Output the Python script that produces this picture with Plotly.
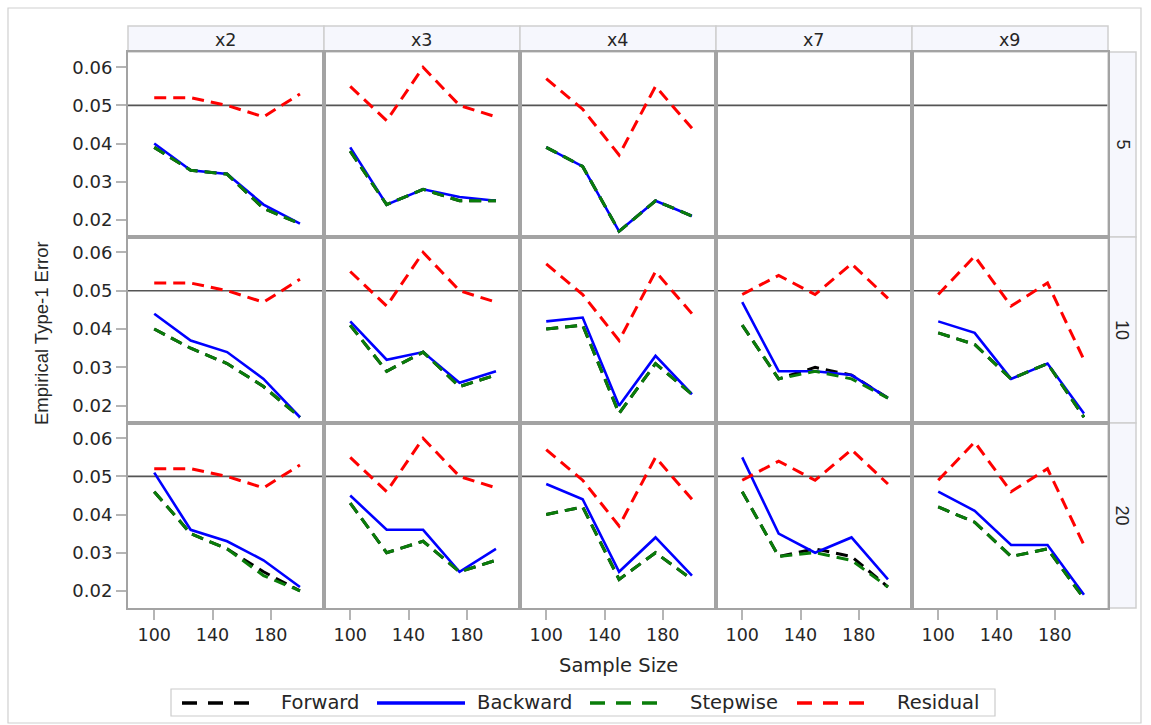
import plotly.graph_objects as go

W, H = 1151, 725

sizes = [100, 125, 150, 175, 200]
variables = ["x2", "x3", "x4", "x7", "x9"]
groups = ["5", "10", "20"]

residual = {
    "x2": [0.052, 0.052, 0.050, 0.047, 0.053],
    "x3": [0.055, 0.046, 0.060, 0.050, 0.047],
    "x4": [0.057, 0.049, 0.037, 0.055, 0.044],
    "x7": [0.049, 0.054, 0.049, 0.057, 0.048],
    "x9": [0.049, 0.059, 0.046, 0.052, 0.032],
}

backward_5 = {
    "x2": [0.040, 0.033, 0.032, 0.024, 0.019],
    "x3": [0.039, 0.024, 0.028, 0.026, 0.025],
    "x4": [0.039, 0.034, 0.017, 0.025, 0.021],
}
backward_10 = {
    "x2": [0.044, 0.037, 0.034, 0.027, 0.017],
    "x3": [0.042, 0.032, 0.034, 0.026, 0.029],
    "x4": [0.042, 0.043, 0.020, 0.033, 0.023],
    "x7": [0.047, 0.029, 0.029, 0.028, 0.022],
    "x9": [0.042, 0.039, 0.027, 0.031, 0.018],
}
backward_20 = {
    "x2": [0.051, 0.036, 0.033, 0.028, 0.021],
    "x3": [0.045, 0.036, 0.036, 0.025, 0.031],
    "x4": [0.048, 0.044, 0.025, 0.034, 0.024],
    "x7": [0.055, 0.035, 0.030, 0.034, 0.023],
    "x9": [0.046, 0.041, 0.032, 0.032, 0.019],
}

stepwise_5 = {
    "x2": [0.039, 0.033, 0.032, 0.023, 0.019],
    "x3": [0.038, 0.024, 0.028, 0.025, 0.025],
    "x4": [0.039, 0.034, 0.017, 0.025, 0.021],
}
stepwise_10 = {
    "x2": [0.040, 0.035, 0.031, 0.025, 0.017],
    "x3": [0.041, 0.029, 0.034, 0.025, 0.028],
    "x4": [0.040, 0.041, 0.018, 0.031, 0.023],
    "x7": [0.041, 0.027, 0.029, 0.027, 0.022],
    "x9": [0.039, 0.036, 0.027, 0.031, 0.017],
}
stepwise_20 = {
    "x2": [0.046, 0.035, 0.031, 0.024, 0.020],
    "x3": [0.043, 0.030, 0.033, 0.025, 0.028],
    "x4": [0.040, 0.042, 0.023, 0.030, 0.023],
    "x7": [0.046, 0.029, 0.030, 0.028, 0.021],
    "x9": [0.042, 0.038, 0.029, 0.031, 0.018],
}

forward_5 = {
    "x2": [0.039, 0.033, 0.032, 0.023, 0.019],
    "x3": [0.038, 0.024, 0.028, 0.025, 0.025],
    "x4": [0.039, 0.034, 0.017, 0.025, 0.021],
}
forward_10 = {
    "x2": [0.040, 0.035, 0.031, 0.025, 0.017],
    "x3": [0.041, 0.029, 0.034, 0.025, 0.028],
    "x4": [0.040, 0.041, 0.018, 0.031, 0.023],
    "x7": [0.041, 0.027, 0.030, 0.028, 0.022],
    "x9": [0.039, 0.036, 0.027, 0.031, 0.017],
}
forward_20 = {
    "x2": [0.046, 0.035, 0.031, 0.025, 0.020],
    "x3": [0.043, 0.030, 0.033, 0.025, 0.028],
    "x4": [0.040, 0.042, 0.023, 0.030, 0.023],
    "x7": [0.046, 0.029, 0.031, 0.029, 0.021],
    "x9": [0.042, 0.038, 0.029, 0.031, 0.018],
}

forward = {"5": forward_5, "10": forward_10, "20": forward_20}
backward = {"5": backward_5, "10": backward_10, "20": backward_20}
stepwise = {"5": stepwise_5, "10": stepwise_10, "20": stepwise_20}

y_ticks = [0.02, 0.03, 0.04, 0.05, 0.06]
x_ticks = [100, 140, 180]
ref_value = 0.05

# ---- styling / layout geometry (pixels) ----
col_edges = [128, 324, 520, 716, 912, 1108]
row_edges = [52, 237, 423, 608]
strip_top = 26
rstrip_right = 1136
TXT = "#262626"
HFONT = "DejaVu Sans"
PANEL_LINE = "#a3a3a3"

def px(x):
    return x / W

def py(y):
    return 1 - y / H

series_style = [
    ("Forward", forward, dict(color="#000000", width=3, dash="12px,7px")),
    ("Backward", backward, dict(color="#0000ff", width=2.6)),
    ("Stepwise", stepwise, dict(color="#0a7d0a", width=3, dash="12px,7px")),
]

fig = go.Figure()
layout = {}
shapes = []
annotations = []

def note(x, y, text, size, family=HFONT, angle=0, xanchor="center"):
    annotations.append(dict(xref="paper", yref="paper", x=px(x), y=py(y),
                            xanchor=xanchor, yanchor="middle", text=text,
                            showarrow=False, textangle=angle,
                            font=dict(family=family, size=size, color=TXT)))

for r, g in enumerate(groups):
    for c, v in enumerate(variables):
        idx = r * 5 + c + 1
        sfx = "" if idx == 1 else str(idx)
        xa, ya = "x" + sfx, "y" + sfx
        layout["xaxis" + sfx] = dict(
            domain=[px(col_edges[c]), px(col_edges[c + 1])],
            range=[82, 216.5], anchor=ya,
            tickvals=x_ticks, showticklabels=(r == 2),
            ticks="outside" if r == 2 else "", ticklen=10, tickwidth=1.5,
            tickcolor="#b5b5b5", showgrid=False, zeroline=False,
            showline=True, mirror=True, linecolor=PANEL_LINE, linewidth=2,
            tickfont=dict(family=HFONT, size=17.5, color=TXT),
        )
        layout["yaxis" + sfx] = dict(
            domain=[py(row_edges[r + 1]), py(row_edges[r])],
            range=[0.0155, 0.064], anchor=xa,
            tickvals=y_ticks, ticktext=[f"{t:.2f}" for t in y_ticks],
            showticklabels=(c == 0),
            ticks="outside" if c == 0 else "", ticklen=10, tickwidth=1.5,
            tickcolor="#b5b5b5", showgrid=False, zeroline=False,
            showline=True, mirror=True, linecolor=PANEL_LINE, linewidth=2,
            tickfont=dict(family=HFONT, size=18, color=TXT),
        )
        # reference line
        shapes.append(dict(type="line", xref=xa + " domain", yref=ya,
                           x0=0, x1=1, y0=ref_value, y1=ref_value,
                           line=dict(color="#555555", width=1.6), layer="below"))
        if v not in backward[g]:
            continue
        for name, data, style in series_style:
            fig.add_trace(go.Scatter(x=sizes, y=data[g][v], mode="lines",
                                     line=style, name=name, showlegend=False,
                                     xaxis=xa, yaxis=ya))
        fig.add_trace(go.Scatter(x=sizes, y=residual[v], mode="lines",
                                 line=dict(color="#ff0000", width=3, dash="12px,7px"),
                                 name="Residual", showlegend=False,
                                 xaxis=xa, yaxis=ya))

# column strips
for c, v in enumerate(variables):
    shapes.append(dict(type="rect", xref="paper", yref="paper",
                       x0=px(col_edges[c]), x1=px(col_edges[c + 1]),
                       y0=py(row_edges[0]), y1=py(strip_top),
                       fillcolor="#f6f7fd", line=dict(color="#cfcfcf", width=1.5),
                       layer="below"))
    note((col_edges[c] + col_edges[c + 1]) / 2, (strip_top + row_edges[0]) / 2 + 1, v, 17.5)
# row strips
for r, g in enumerate(groups):
    shapes.append(dict(type="rect", xref="paper", yref="paper",
                       x0=px(col_edges[-1]), x1=px(rstrip_right),
                       y0=py(row_edges[r + 1]), y1=py(row_edges[r]),
                       fillcolor="#f6f7fd", line=dict(color="#cfcfcf", width=1.5),
                       layer="below"))
    note((col_edges[-1] + rstrip_right) / 2, (row_edges[r] + row_edges[r + 1]) / 2,
         g, 18, family="Liberation Sans", angle=90)

# axis titles
note(618, 665, "Sample Size", 19.5)
note(42, 333, "Empirical Type-1 Error", 18.5, family="Liberation Sans", angle=-90)

# outer frame
shapes.append(dict(type="rect", xref="paper", yref="paper",
                   x0=px(8), x1=px(1141), y0=py(723), y1=py(8),
                   line=dict(color="#d0d0d0", width=1.2), layer="below"))

# legend (drawn)
shapes.append(dict(type="rect", xref="paper", yref="paper",
                   x0=px(171), x1=px(995), y0=py(716), y1=py(689),
                   line=dict(color="#cccccc", width=1.2), layer="below"))
legend_items = [
    ("Forward", "#000000", "15px,11px", 182, 257, 279),
    ("Backward", "#0000ff", "solid", 377, 465, 475),
    ("Stepwise", "#0a7d0a", "15px,11px", 590, 665, 688),
    ("Residual", "#ff0000", "15px,11px", 797, 872, 895),
]
for name, col, dash, x0, x1, tx in legend_items:
    shapes.append(dict(type="line", xref="paper", yref="paper",
                       x0=px(x0), x1=px(x1), y0=py(703), y1=py(703),
                       line=dict(color=col, width=3.5, dash=dash)))
    note(tx, 702, name, 19.5, xanchor="left")

fig.update_layout(
    width=W, height=H, margin=dict(l=0, r=0, t=0, b=0),
    paper_bgcolor="white", plot_bgcolor="white",
    showlegend=False, shapes=shapes, annotations=annotations,
    **layout,
)

fig.write_html("out.html")
